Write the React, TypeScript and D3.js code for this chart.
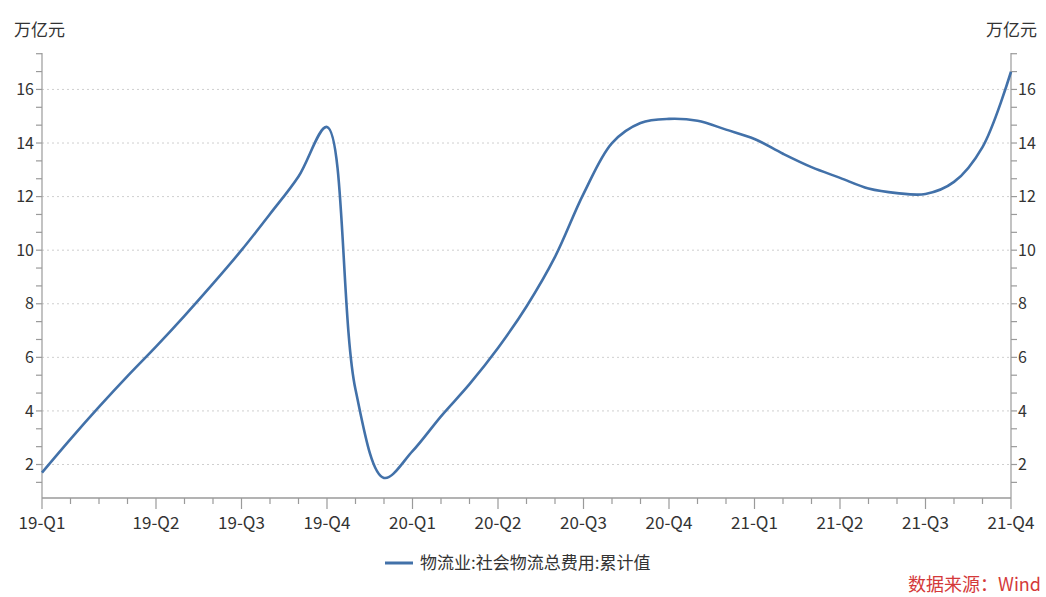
import React from "react";
import * as d3 from "d3";

const months: string[] = [
  "2019-02", "2019-03", "2019-04", "2019-05", "2019-06", "2019-07", "2019-08", "2019-09", "2019-10", "2019-11", "2019-12",
  "2020-01", "2020-02", "2020-03", "2020-04", "2020-05", "2020-06", "2020-07", "2020-08", "2020-09", "2020-10", "2020-11", "2020-12",
  "2021-01", "2021-02", "2021-03", "2021-04", "2021-05", "2021-06", "2021-07", "2021-08", "2021-09", "2021-10", "2021-11", "2021-12",
];
const values: number[] = [
  1.7, 2.95, 4.15, 5.3, 6.4, 7.55, 8.75, 10.0, 11.35, 12.75, 14.6,
  4.8, 1.5, 2.5, 3.8, 5.0, 6.35, 7.9, 9.75, 12.1, 14.0, 14.75, 14.9,
  14.83, 14.5, 14.15, 13.6, 13.1, 12.7, 12.3, 12.13, 12.1, 12.55, 13.85, 16.66,
];
const tickMonths: string[] = ["2019-02", "2019-06", "2019-09", "2019-12", "2020-03", "2020-06", "2020-09", "2020-12", "2021-03", "2021-06", "2021-09", "2021-12"];
const tickLabels: string[] = ["19-Q1", "19-Q2", "19-Q3", "19-Q4", "20-Q1", "20-Q2", "20-Q3", "20-Q4", "21-Q1", "21-Q2", "21-Q3", "21-Q4"];
const yMajor: number[] = [2, 4, 6, 8, 10, 12, 14, 16];
const unitLabel = "万亿元";
const seriesName = "物流业:社会物流总费用:累计值";
const sourceText = "数据来源：Wind";

const W = 1046, H = 597;
const left = 42, right = 1011, top = 53, bottom = 498;
const FONT = "'Noto Sans CJK SC', 'Noto Sans', sans-serif";
const LINE = "#4271a9";
const AXIS = "#9a9a9a";
const TXT = "#333";

const monthIndex = (s: string) => {
  const [y, m] = s.split("-").map(Number);
  return (y - 2019) * 12 + (m - 2);
};

export default function App() {
  const x = d3.scaleLinear().domain([0, 34]).range([left, right]);
  const y = d3.scaleLinear().domain([0.75, 17.36]).range([bottom, top]);
  const data = months.map((m, i) => ({ i: monthIndex(m), v: values[i] }));
  const line = d3.line<{ i: number; v: number }>().x(d => x(d.i)).y(d => y(d.v)).curve(d3.curveCatmullRom.alpha(0.5));
  const yTicksAll = d3.range(0, 27).map(k => 2 / 3 + k * (2 / 3)).filter(v => v >= 0.75 && v <= 17.4);
  const monthTicks = d3.range(0, 35);
  const majorIdx = tickMonths.map(monthIndex);

  return (
    <svg width={W} height={H} style={{ position: "absolute", left: 0, top: 0, background: "#fff" }} fontFamily={FONT}>
      {yMajor.map(v => (
        <line key={"g" + v} x1={left} x2={right} y1={y(v)} y2={y(v)} stroke="#cfcfcf" strokeWidth={1} strokeDasharray="2,3" />
      ))}
      <line x1={left} x2={left} y1={top} y2={bottom} stroke={AXIS} strokeWidth={1.2} />
      {yTicksAll.map((v, k) => (
        <line key={"lt" + k} x1={left - 6} x2={left} y1={y(v)} y2={y(v)} stroke={AXIS} strokeWidth={1.2} />
      ))}
      {yMajor.map(v => (
        <text key={"ll" + v} x={left - 8} y={y(v)} dy="0.35em" textAnchor="end" fontSize={16} fill={TXT}>{v}</text>
      ))}
      <line x1={right} x2={right} y1={top} y2={bottom} stroke={AXIS} strokeWidth={1.2} />
      {yTicksAll.map((v, k) => (
        <line key={"rt" + k} x1={right} x2={right + 6} y1={y(v)} y2={y(v)} stroke={AXIS} strokeWidth={1.2} />
      ))}
      {yMajor.map(v => (
        <text key={"rl" + v} x={right + 7} y={y(v)} dy="0.35em" textAnchor="start" fontSize={16} fill={TXT}>{v}</text>
      ))}
      <line x1={left} x2={right} y1={bottom} y2={bottom} stroke={AXIS} strokeWidth={1.5} />
      {monthTicks.map(i => (
        <line key={"xt" + i} x1={x(i)} x2={x(i)} y1={bottom} y2={bottom + (majorIdx.includes(i) ? 11 : 6)} stroke={AXIS} strokeWidth={1.2} />
      ))}
      {tickLabels.map((t, k) => (
        <text key={"xl" + k} x={x(majorIdx[k])} y={bottom + 25} dy="0.35em" textAnchor="middle" fontSize={17} fill={TXT}>{t}</text>
      ))}
      <text x={14} y={30} fontSize={17} fill={TXT} dy="0.35em">{unitLabel}</text>
      <text x={1037} y={30} fontSize={17} fill={TXT} dy="0.35em" textAnchor="end">{unitLabel}</text>
      <path d={line(data) || ""} fill="none" stroke={LINE} strokeWidth={2.6} strokeLinejoin="round" />
      <line x1={385} x2={413} y1={563} y2={563} stroke={LINE} strokeWidth={3} />
      <text x={420} y={563} dy="0.35em" fontSize={17} fill={TXT}>{seriesName}</text>
      <text x={1041} y={585} dy="0.35em" textAnchor="end" fontSize={18} fill="#d4393a">{sourceText}</text>
    </svg>
  );
}
